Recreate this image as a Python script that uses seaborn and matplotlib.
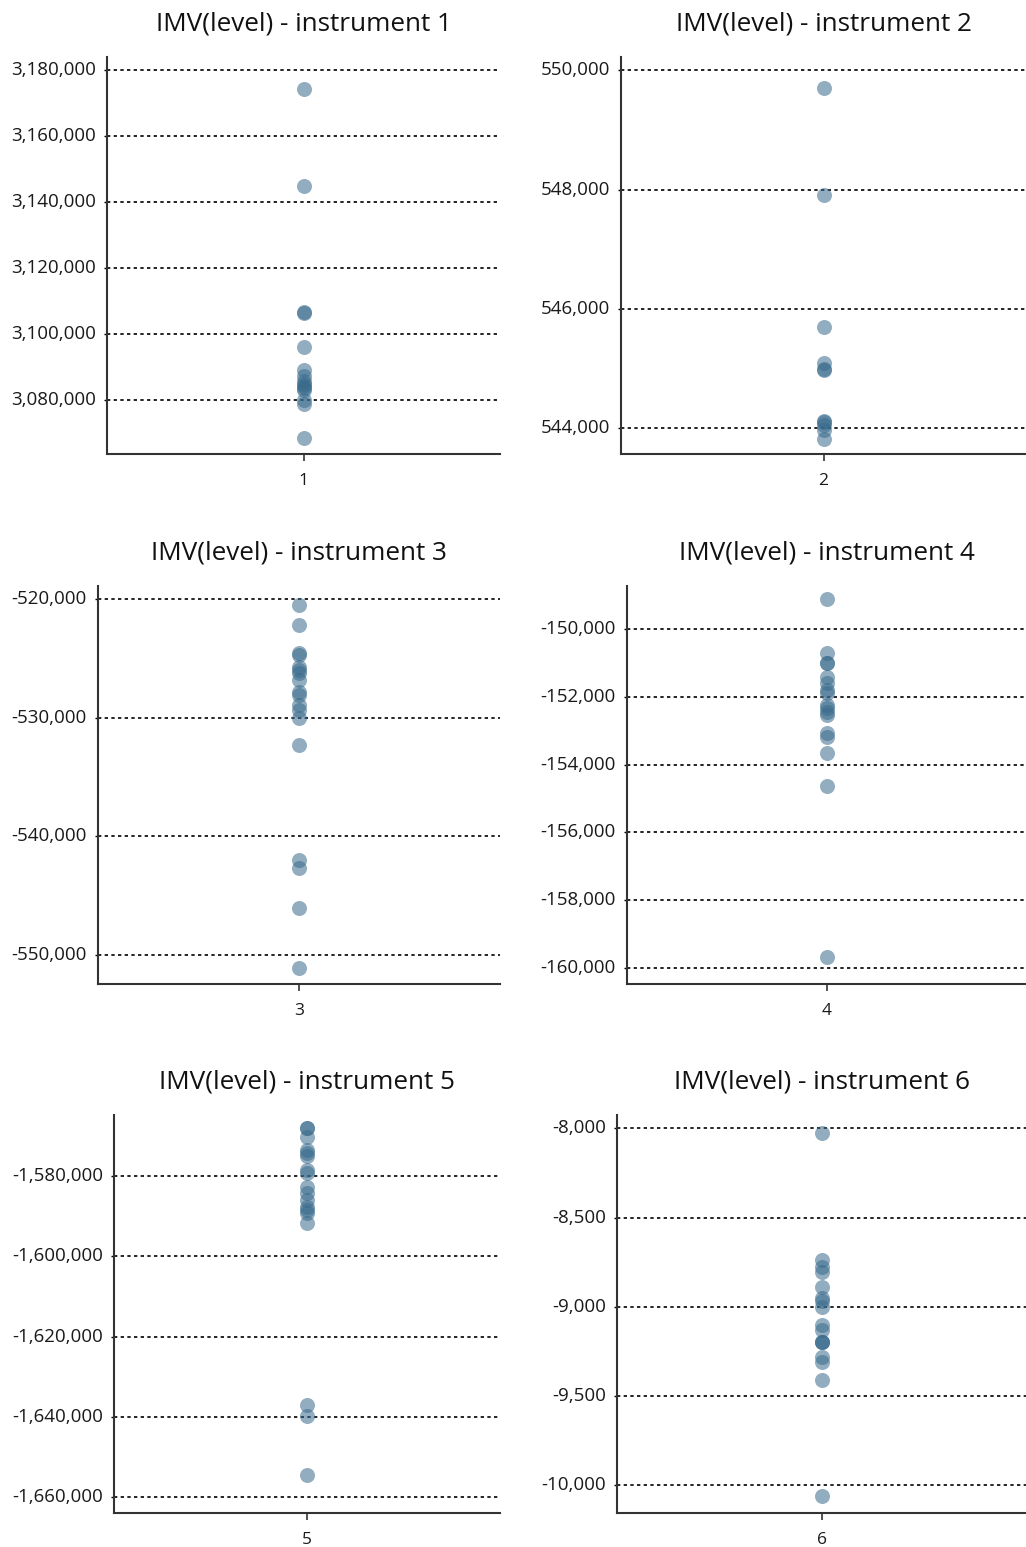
import matplotlib
matplotlib.use("Agg")
import matplotlib.pyplot as plt
import matplotlib.transforms as mtransforms
from matplotlib.ticker import FuncFormatter, FixedLocator
import seaborn as sns
import pandas as pd

# ---- data ----
titles = ["IMV(level) - instrument 1", "IMV(level) - instrument 2",
          "IMV(level) - instrument 3", "IMV(level) - instrument 4",
          "IMV(level) - instrument 5", "IMV(level) - instrument 6"]
categories = ["1", "2", "3", "4", "5", "6"]

values_1 = [3174200, 3144900, 3106700, 3106500, 3096100, 3089100, 3087300,
            3085800, 3084900, 3084200, 3083600, 3083000, 3080000, 3078800, 3068500]
values_2 = [549700, 547900, 545700, 545100, 545000, 544980, 544130, 544110,
            544060, 543980, 543820]
values_3 = [-520480, -522130, -524530, -524700, -525710, -525970, -526220,
            -526810, -527820, -528080, -528920, -529340, -530020, -532320,
            -542000, -542700, -546080, -551140]
values_4 = [-149114, -150700, -150995, -151000, -151410, -151590, -151790,
            -151880, -152235, -152320, -152440, -152530, -153070, -153180,
            -153650, -154630, -159690]
values_5 = [-1567940, -1567990, -1570190, -1573440, -1574190, -1574940,
            -1578430, -1579180, -1582680, -1584170, -1585920, -1587670,
            -1588420, -1589170, -1591660, -1637100, -1639850, -1654410]
values_6 = [-8025, -8737, -8776, -8804, -8888, -8950, -8966, -9000, -9100,
            -9129, -9196, -9198, -9194, -9280, -9308, -9412, -10061]

ticks_1 = [3080000, 3100000, 3120000, 3140000, 3160000, 3180000]
ticks_2 = [544000, 546000, 548000, 550000]
ticks_3 = [-550000, -540000, -530000, -520000]
ticks_4 = [-160000, -158000, -156000, -154000, -152000, -150000]
ticks_5 = [-1660000, -1640000, -1620000, -1600000, -1580000]
ticks_6 = [-10000, -9500, -9000, -8500, -8000]

ylims = [(3063640, 3183940), (543573, 550218), (-552465, -518878),
         (-160474, -148721), (-1664000, -1564694), (-10154, -7926)]

all_values = [values_1, values_2, values_3, values_4, values_5, values_6]
all_ticks = [ticks_1, ticks_2, ticks_3, ticks_4, ticks_5, ticks_6]

# ---- layout (pixels) ----
W, H = 1026, 1547
boxes = [(107, 500, 57, 454), (621, 1026, 57, 454),
         (98, 500, 586, 984), (627, 1026, 586, 984),
         (114, 500, 1115, 1513), (617, 1026, 1115, 1513)]

sns.set_theme(style="white")
plt.rcParams['font.family'] = ['Open Sans', 'DejaVu Sans']

fig = plt.figure(figsize=(W / 100, H / 100), dpi=100)
point_color = "#386a8b"
fmt = FuncFormatter(lambda v, p: f"{v:,.0f}")

for i in range(6):
    l, r, t, b = boxes[i]
    ax = fig.add_axes([l / W, 1 - b / H, (r - l) / W, (b - t) / H])
    df = pd.DataFrame({"cat": [categories[i]] * len(all_values[i]),
                       "val": all_values[i]})
    sns.stripplot(data=df, x="cat", y="val", ax=ax, jitter=False,
                  color=point_color, alpha=0.55, size=10.8, linewidth=0,
                  zorder=3)
    ax.set_xlim(-0.5, 0.5)
    ax.set_ylim(*ylims[i])
    ax.yaxis.set_major_locator(FixedLocator(all_ticks[i]))
    ax.yaxis.set_major_formatter(fmt)
    ax.grid(axis="y", color="black", linestyle=(0, (2, 2)), linewidth=1.2,
            zorder=1)
    ax.grid(axis="x", visible=False)
    ax.set_axisbelow(True)
    for s in ["top", "right"]:
        ax.spines[s].set_visible(False)
    for s in ["left", "bottom"]:
        ax.spines[s].set_color("#333333")
        ax.spines[s].set_linewidth(1.5)
    ax.tick_params(axis="y", left=True, length=2.5, width=1.0, color="black",
                   labelsize=13.5, pad=5.5, labelcolor="#1a1a1a")
    ax.tick_params(axis="x", bottom=True, length=5, width=1.2, color="#333333",
                   labelsize=12.5, pad=9, labelcolor="#1a1a1a")
    offset = mtransforms.ScaledTranslation(0, 2 / 100, fig.dpi_scale_trans)
    for lab in ax.get_yticklabels():
        lab.set_transform(lab.get_transform() + offset)
    ax.set_xlabel("")
    ax.set_ylabel("")
    ax.set_title(titles[i], fontsize=18.8, pad=19, color="#111111")

fig.savefig("out.png", dpi=100, facecolor="white")
